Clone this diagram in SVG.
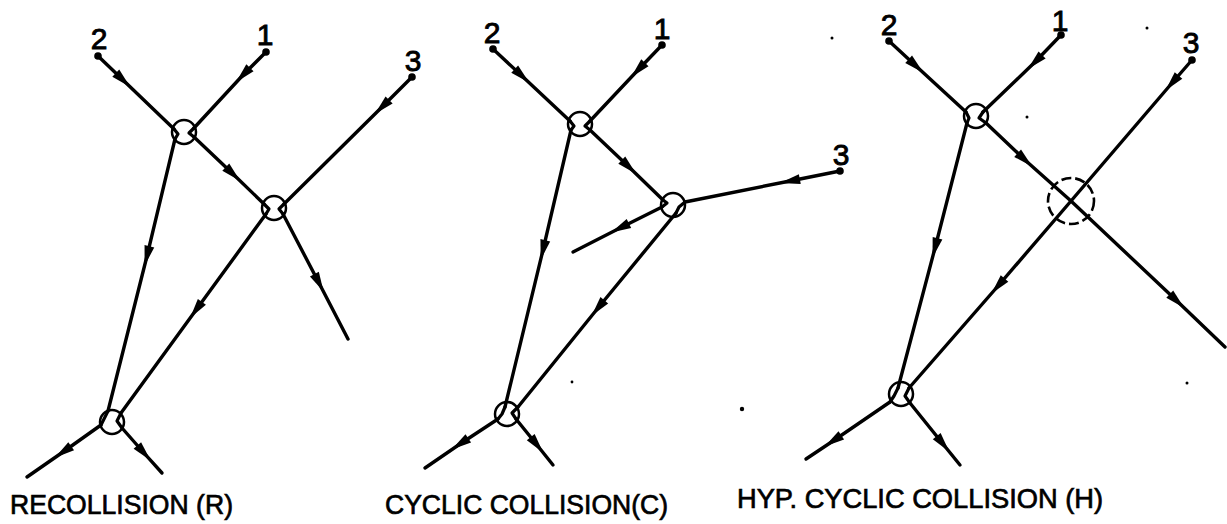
<svg xmlns="http://www.w3.org/2000/svg" width="1227" height="524" viewBox="0 0 1227 524">
  <style>
    .trk { fill: none; stroke: #000; stroke-width: 3.4; stroke-linecap: round; stroke-linejoin: round; }
    .arr { marker-mid: url(#ah); }
    .kink { fill: none; stroke: #000; stroke-width: 3.2; stroke-linejoin: round; stroke-linecap: round; }
    .vtx { fill: none; stroke: #000; stroke-width: 2.5; }
    .hyp { fill: none; stroke: #000; stroke-width: 2.6; stroke-dasharray: 10 4; }
    .pt { fill: #000; }
    .num { font-family: "Liberation Sans", Arial, sans-serif; font-size: 30px; fill: #000; stroke: #000; stroke-width: 0.9; text-anchor: middle; }
    .cap { font-family: "Liberation Sans", Arial, sans-serif; font-size: 28px; fill: #000; stroke: #000; stroke-width: 0.7; }
    .speck { fill: #000; }
  </style>
  <defs>
    <marker id="ah" viewBox="-11 -6 22 12" refX="0" refY="0" markerWidth="22" markerHeight="12" markerUnits="userSpaceOnUse" orient="auto">
      <path d="M10,0 L-10,-5 L-10,5 Z" fill="#000"/>
    </marker>
  </defs>

  <!-- Panel R: recollision -->
  <g id="panel-r">
    <g id="r-connectors">
      <path class="trk arr" d="M98,56 L123,80 L174,129"/>
      <path class="trk arr" d="M266,52 L243,75 L194,128"/>
      <path class="trk arr" d="M412,77 L382,107 L284,204"/>
      <path class="trk arr" d="M175,139 L147,256 L108,411"/>
      <path class="trk arr" d="M194,137 L233,174 L264,204"/>
      <path class="trk arr" d="M266,214 L196,310 L121,413"/>
      <path class="trk arr" d="M283,214 L319,283 L348,339"/>
      <path class="trk arr" d="M101,425 L63,452 L27,477"/>
      <path class="trk arr" d="M122,428 L144,453 L162,473"/>
    </g>
    <g id="r-start-2"><circle class="pt" cx="98" cy="56" r="3.8"/><text class="num" x="99" y="49">2</text></g>
    <g id="r-start-1"><circle class="pt" cx="266" cy="52" r="3.8"/><text class="num" x="265" y="45">1</text></g>
    <g id="r-start-3"><circle class="pt" cx="412" cy="77" r="3.8"/><text class="num" x="413" y="71">3</text></g>
    <g id="r-vertex-a">
      <circle class="vtx" cx="184" cy="132" r="12"/>
      <path class="kink" d="M174,129 L178,134 L175,139"/>
      <path class="kink" d="M194,128 L189,133 L194,137"/>
    </g>
    <g id="r-vertex-b">
      <circle class="vtx" cx="274" cy="208" r="12"/>
      <path class="kink" d="M264,204 L269,209 L266,214"/>
      <path class="kink" d="M284,204 L279,209 L283,214"/>
    </g>
    <g id="r-vertex-c">
      <circle class="vtx" cx="112" cy="422" r="12"/>
      <path class="kink" d="M108,411 L104,419 L101,425"/>
      <path class="kink" d="M121,413 L117,421 L122,428"/>
    </g>
    <text id="r-caption" class="cap" x="10" y="514" textLength="223" lengthAdjust="spacingAndGlyphs">RECOLLISION (R)</text>
  </g>

  <!-- Panel C: cyclic collision -->
  <g id="panel-c">
    <g id="c-connectors">
      <path class="trk arr" d="M493,49 L522,76 L570,121"/>
      <path class="trk arr" d="M662,45 L638,70 L590,121"/>
      <path class="trk arr" d="M571,130 L543,250 L505,407"/>
      <path class="trk arr" d="M590,130 L629,167 L663,200"/>
      <path class="trk arr" d="M840,171 L790,181 L685,202"/>
      <path class="trk arr" d="M662,207 L620,228 L573,252"/>
      <path class="trk arr" d="M676,213 L598,308 L518,407"/>
      <path class="trk arr" d="M498,419 L460,444 L425,468"/>
      <path class="trk arr" d="M516,419 L537,445 L553,465"/>
    </g>
    <g id="c-start-2"><circle class="pt" cx="493" cy="49" r="3.8"/><text class="num" x="492" y="43">2</text></g>
    <g id="c-start-1"><circle class="pt" cx="662" cy="45" r="3.8"/><text class="num" x="662" y="39">1</text></g>
    <g id="c-start-3"><circle class="pt" cx="840" cy="171" r="3.8"/><text class="num" x="841" y="165">3</text></g>
    <g id="c-vertex-a">
      <circle class="vtx" cx="580" cy="124" r="12"/>
      <path class="kink" d="M570,121 L574,126 L571,130"/>
      <path class="kink" d="M590,121 L585,126 L590,130"/>
    </g>
    <g id="c-vertex-b">
      <circle class="vtx" cx="673" cy="205" r="12"/>
      <path class="kink" d="M663,200 L667,203 L662,207"/>
      <path class="kink" d="M685,202 L679,207 L676,213"/>
    </g>
    <g id="c-vertex-c">
      <circle class="vtx" cx="507" cy="414" r="12"/>
      <path class="kink" d="M505,407 L502,414 L498,419"/>
      <path class="kink" d="M518,407 L512,413 L516,419"/>
    </g>
    <text id="c-caption" class="cap" x="385" y="514" textLength="283" lengthAdjust="spacingAndGlyphs">CYCLIC COLLISION(C)</text>
  </g>

  <!-- Panel H: hypothetical cyclic collision -->
  <g id="panel-h">
    <g id="h-connectors">
      <path class="trk arr" d="M889,41 L916,66 L966,112"/>
      <path class="trk arr" d="M1061,35 L1035,62 L983,112"/>
      <path class="trk arr" d="M967,123 L935,248 L898,388"/>
      <path class="trk arr" d="M986,123 L1025,160 L1071,201"/>
      <path class="trk arr" d="M1071,201 L1177,301 L1225,347"/>
      <path class="trk arr" d="M1192,60 L1172,83 L1071,201"/>
      <path class="trk arr" d="M1071,201 L998,286 L909,388"/>
      <path class="trk arr" d="M890,402 L833,441 L806,459"/>
      <path class="trk arr" d="M910,403 L943,444 L960,465"/>
    </g>
    <g id="h-start-2"><circle class="pt" cx="889" cy="41" r="3.8"/><text class="num" x="889" y="35">2</text></g>
    <g id="h-start-1"><circle class="pt" cx="1061" cy="35" r="3.8"/><text class="num" x="1060" y="31">1</text></g>
    <g id="h-start-3"><circle class="pt" cx="1192" cy="60" r="3.8"/><text class="num" x="1191" y="53">3</text></g>
    <g id="h-vertex-a">
      <circle class="vtx" cx="976" cy="116" r="12"/>
      <path class="kink" d="M966,112 L969,118 L967,123"/>
      <path class="kink" d="M983,112 L979,118 L986,123"/>
    </g>
    <g id="h-vertex-hyp">
      <circle class="hyp" cx="1071" cy="201" r="23"/>
    </g>
    <g id="h-vertex-c">
      <circle class="vtx" cx="901" cy="394" r="12"/>
      <path class="kink" d="M898,388 L894,396 L890,402"/>
      <path class="kink" d="M909,388 L905,396 L910,403"/>
    </g>
    <text id="h-caption" class="cap" x="737" y="508" textLength="366" lengthAdjust="spacingAndGlyphs">HYP. CYCLIC COLLISION (H)</text>
  </g>

  <!-- stray print specks -->
  <g id="specks">
    <circle class="speck" cx="832" cy="38" r="1.5"/>
    <circle class="speck" cx="1147" cy="28" r="1.5"/>
    <circle class="speck" cx="1027" cy="117" r="1.5"/>
    <circle class="speck" cx="572" cy="382" r="1.4"/>
    <circle class="speck" cx="742" cy="409" r="2.2"/>
    <circle class="speck" cx="1187" cy="383" r="1.5"/>
  </g>
</svg>
